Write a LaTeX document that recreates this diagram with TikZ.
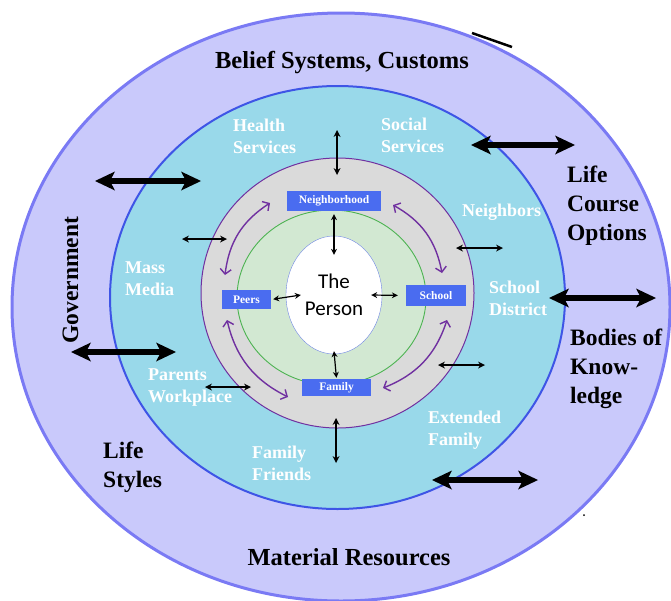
\documentclass[tikz,border=0pt]{standalone}
\usepackage{fontspec}
\setmainfont{Liberation Serif}
\newfontfamily\personfont{Carlito}
\usetikzlibrary{arrows.meta, shapes.geometric}

\definecolor{lavender}{HTML}{C9C9FB}
\definecolor{lavenderline}{HTML}{7A7AF4}
\definecolor{skyring}{HTML}{99D9EA}
\definecolor{skyline}{HTML}{3E55E6}
\definecolor{grayring}{HTML}{DADADA}
\definecolor{ringpurple}{HTML}{7030A0}
\definecolor{greenring}{HTML}{D2E8D2}
\definecolor{greenline}{HTML}{4DB352}
\definecolor{personline}{HTML}{6F86E3}
\definecolor{boxblue}{HTML}{4A6CF0}

\begin{document}
\begin{tikzpicture}[
  x = 1pt, y = -1pt,
  bigarrow/.style = {line width = 6pt,
    {Stealth[length=20pt, width=19pt, inset=5pt, line width=0pt]}-{Stealth[length=20pt, width=19pt, inset=5pt, line width=0pt]}},
  smallarrow/.style = {line width = 1.4pt,
    {Stealth[length=7pt, width=7pt, line width=0pt]}-{Stealth[length=7pt, width=7pt, line width=0pt]}},
  thinarrow/.style = {line width = 1.2pt,
    {Stealth[length=6pt, width=6pt, line width=0pt]}-{Stealth[length=6pt, width=6pt, line width=0pt]}},
  ringarrow/.style = {draw = ringpurple, line width = 1.4pt,
    {Straight Barb[length=5pt, width=11pt]}-{Straight Barb[length=5pt, width=11pt]}}
  ]

  \tikzstyle{outer label}=[
  font = \fontsize{23.5}{29}\selectfont\bfseries,
  align = left,
  inner sep = 0pt
  ]
  \tikzstyle{ring label}=[
  text = white,
  font = \fontsize{18}{21.5}\selectfont\bfseries,
  align = left,
  inner sep = 0pt
  ]
  \tikzstyle{setting}=[
  fill = boxblue,
  text = white,
  font = \fontsize{11.5}{12}\selectfont\bfseries,
  inner sep = 0pt
  ]

  \useasboundingbox (0,0) rectangle (671,600);
  \clip (0,0) rectangle (671,600);

  % rings
  \draw[lavenderline, line width=3pt, fill=lavender] (341,307) ellipse [x radius=329pt, y radius=294pt];
  \draw[skyline, line width=2pt, fill=skyring] (337.5,297.5) ellipse [x radius=227.5pt, y radius=211.5pt];
  \draw[ringpurple, line width=1pt, fill=grayring] (337.5,293) ellipse [x radius=136.5pt, y radius=135pt];
  \draw[greenline, line width=0.9pt, fill=greenring] (331.5,297.5) ellipse [x radius=94.5pt, y radius=87.5pt];
  \draw[line width=2.5pt] (472,33) -- (512,47);
  \fill (584,515) circle [radius=1pt];

  \node[ellipse, draw=personline, fill=white, minimum width=96pt, minimum height=118pt,
    inner sep=0pt, align=center, font=\personfont\fontsize{21}{27}\selectfont] (person) at (334,295) {The\\Person};

  \node[setting, minimum width=94pt, minimum height=20pt] (hood) at (334,201) {Neighborhood};
  \node[setting, minimum width=49pt, minimum height=19pt] (peers) at (246.5,299.5) {Peers};
  \node[setting, minimum width=60pt, minimum height=21pt] (school) at (436,295.5) {School};
  \node[setting, minimum width=69pt, minimum height=17pt] (family) at (336.5,387.5) {Family};

  \draw[thinarrow, shorten <=3pt] (hood.south) -- ([yshift=-19pt]person.north);
  \draw[thinarrow, shorten <=2pt] (peers.east) -- ([xshift=15pt]person.west);
  \draw[thinarrow, shorten >=8pt] ([xshift=-11pt]person.east) -- (school.west);
  \draw[thinarrow, shorten >=1pt] ([yshift=3pt]person.south) -- (family.north);

  \coordinate (hood-w) at (270,203);
  \coordinate (hood-e) at (393,205);
  \coordinate (peers-n) at (225,275);
  \coordinate (peers-s) at (227,320);
  \coordinate (school-n) at (442,273);
  \coordinate (school-s) at (447,320);
  \coordinate (family-w) at (288,397);
  \coordinate (family-e) at (383,388);
  \draw[ringarrow] (hood-w) to[bend right=25] (peers-n);
  \draw[ringarrow] (hood-e) to[bend left=25] (school-n);
  \draw[ringarrow] (peers-s) to[bend right=25] (family-w);
  \draw[ringarrow] (school-s) to[bend left=25] (family-e);

  % arrows across the grey ring
  \coordinate (s1a) at (337,130);  \coordinate (s1b) at (337,175);
  \coordinate (s2a) at (182,239);  \coordinate (s2b) at (227,239);
  \coordinate (s3a) at (456,248);  \coordinate (s3b) at (503,248);
  \coordinate (s4a) at (438,365);  \coordinate (s4b) at (485,365);
  \coordinate (s5a) at (205,387);  \coordinate (s5b) at (251,387);
  \coordinate (s6a) at (336,418);  \coordinate (s6b) at (336,463);
  \draw[smallarrow] (s1a) -- (s1b);
  \draw[smallarrow] (s2a) -- (s2b);
  \draw[smallarrow] (s3a) -- (s3b);
  \draw[smallarrow] (s4a) -- (s4b);
  \draw[smallarrow] (s5a) -- (s5b);
  \draw[smallarrow] (s6a) -- (s6b);

  % arrows across the blue ring
  \coordinate (b1a) at (95,181);   \coordinate (b1b) at (201,181);
  \coordinate (b2a) at (471,145);  \coordinate (b2b) at (575,145);
  \coordinate (b3a) at (71,352);   \coordinate (b3b) at (176,352);
  \coordinate (b4a) at (549,298);  \coordinate (b4b) at (656,298);
  \coordinate (b5a) at (432,480);  \coordinate (b5b) at (538,480);
  \draw[bigarrow] (b1a) -- (b1b);
  \draw[bigarrow] (b2a) -- (b2b);
  \draw[bigarrow] (b3a) -- (b3b);
  \draw[bigarrow] (b4a) -- (b4b);
  \draw[bigarrow] (b5a) -- (b5b);

  % multi-line labels sit on the baseline of their last line
  \node[ring label, anchor=base west] (health) at (233,153) {Health\\Services};
  \node[ring label, anchor=base west] (social) at (381,152) {Social\\Services};
  \node[ring label, anchor=base west] (neighbors) at (462,216) {Neighbors};
  \node[ring label, anchor=base west] (media) at (125,295) {Mass\\Media};
  \node[ring label, anchor=base west] (district) at (489,315) {School\\District};
  \node[ring label, anchor=base west] (workplace) at (148,402) {Parents\\Workplace};
  \node[ring label, anchor=base west] (extended) at (428,445) {Extended\\Family};
  \node[ring label, anchor=base west] (friends) at (252,480) {Family\\Friends};

  \node[outer label, anchor=base, font=\fontsize{24.5}{29}\selectfont\bfseries] (belief) at (342,68) {Belief Systems, Customs};
  \node[outer label, anchor=base, font=\fontsize{24.5}{29}\selectfont\bfseries] (material) at (349,565) {Material Resources};
  \node[outer label, anchor=base, rotate=90] (government) at (78,280) {Government};
  \node[outer label, anchor=base west] (course) at (567,240) {Life\\Course\\Options};
  \node[outer label, anchor=base west] (knowledge) at (570,403) {Bodies of\\Know-\\ledge};
  \node[outer label, anchor=base west] (styles) at (103,487) {Life\\Styles};

\end{tikzpicture}
\end{document}
